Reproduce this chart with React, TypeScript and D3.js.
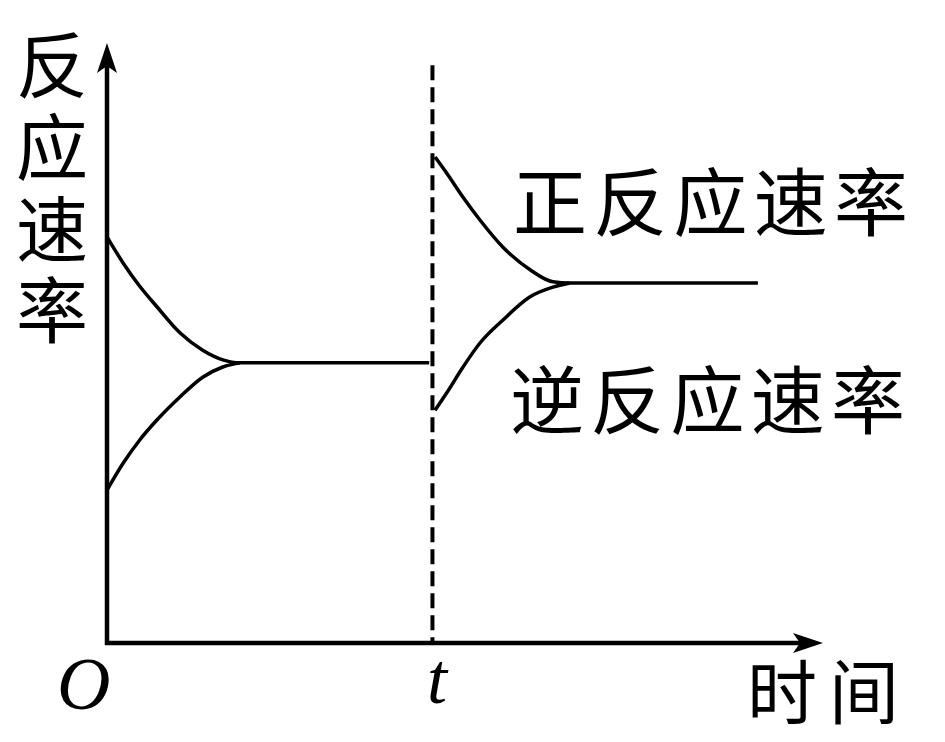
import React from "react";
import * as d3 from "d3";

// time / rate points
const fwdBefore = [
  [0, 6.77], [0.25, 6.33], [0.5, 5.95], [0.77, 5.6], [1.12, 5.17],
  [1.47, 4.88], [1.78, 4.72], [2.04, 4.67], [4.95, 4.67],
];
const revBefore = [
  [0, 2.55], [0.25, 3.0], [0.5, 3.38], [0.77, 3.72], [1.12, 4.1],
  [1.47, 4.43], [1.78, 4.6], [2.04, 4.67],
];
const fwdAfter = [
  [5.04, 8.1], [5.22, 7.83], [5.47, 7.43], [5.73, 7.05], [6.08, 6.6],
  [6.5, 6.22], [6.85, 6.02], [7.11, 6.0], [10.0, 6.0],
];
const revAfter = [
  [5.04, 3.88], [5.22, 4.17], [5.47, 4.6], [5.73, 5.0], [6.08, 5.38],
  [6.5, 5.77], [6.85, 5.93], [7.11, 6.0],
];
const tTime = 5;
const dashTop = 9.63;
const yLabel = "反应速率";
const fwdLabel = "正反应速率";
const revLabel = "逆反应速率";
const xLabel = "时间";

const W = 945;
const H = 742;
const cjk = "'Noto Sans CJK SC', sans-serif";
const serif = "'Liberation Serif', 'DejaVu Serif', serif";

export default function App() {
  const x = d3.scaleLinear().domain([0, 11]).range([107, 823]);
  const y = d3.scaleLinear().domain([0, 10]).range([643, 43]);

  const line = d3
    .line<number[]>()
    .x((d) => x(d[0]))
    .y((d) => y(d[1]))
    .curve(d3.curveMonotoneX);

  const x0 = x(0);
  const y0 = y(0);
  const yTop = y(10);
  const xEnd = x(11);

  return (
    <svg
      width={W}
      height={H}
      style={{ position: "absolute", left: 0, top: 0, background: "#fff" }}
    >
      {/* axes */}
      <line x1={x0} y1={y0 + 2} x2={x0} y2={yTop + 20} stroke="#000" strokeWidth={4.5} />
      <path
        d={`M${x0},${yTop} L${x0 - 10},${yTop + 30} L${x0},${yTop + 23} L${x0 + 10},${yTop + 30} Z`}
        fill="#000"
      />
      <line x1={x0 - 2} y1={y0} x2={xEnd - 20} y2={y0} stroke="#000" strokeWidth={4.5} />
      <path
        d={`M${xEnd},${y0} L${xEnd - 30},${y0 - 10} L${xEnd - 23},${y0} L${xEnd - 30},${y0 + 10} Z`}
        fill="#000"
      />

      {/* dashed line at t */}
      <line
        x1={x(tTime)}
        y1={y(dashTop)}
        x2={x(tTime)}
        y2={y0}
        stroke="#000"
        strokeWidth={4}
        strokeDasharray="15 7"
      />

      {/* curves */}
      {[fwdBefore, revBefore, fwdAfter, revAfter].map((d, i) => (
        <path key={i} d={line(d) ?? ""} fill="none" stroke="#000" strokeWidth={3.5} />
      ))}

      {/* y label, written top to bottom */}
      <text
        x={52}
        y={29}
        fontFamily={cjk}
        fontSize={72}
        style={{ writingMode: "vertical-rl" }}
        letterSpacing={9.7}
      >
        {yLabel}
      </text>

      <text x={513} y={197} fontFamily={cjk} fontSize={74} dominantBaseline="central"
        textLength={395} lengthAdjust="spacing">
        {fwdLabel}
      </text>
      <text x={510} y={395} fontFamily={cjk} fontSize={74} dominantBaseline="central"
        textLength={395} lengthAdjust="spacing">
        {revLabel}
      </text>
      <text x={747} y={688} fontFamily={cjk} fontSize={70} dominantBaseline="central"
        textLength={152} lengthAdjust="spacing">
        {xLabel}
      </text>

      <text x={57} y={709} fontFamily={serif} fontSize={74} fontStyle="italic">
        O
      </text>
      <text x={437} y={703} fontFamily={serif} fontSize={72} fontStyle="italic"
        textAnchor="middle">
        t
      </text>
    </svg>
  );
}
